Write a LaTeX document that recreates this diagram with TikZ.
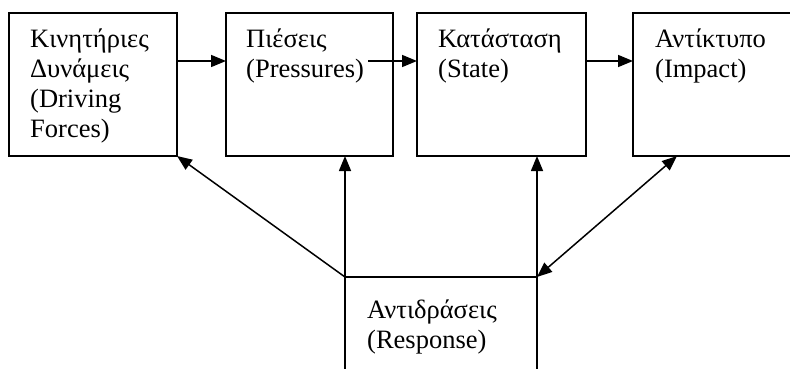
\documentclass[tikz,border=0pt]{standalone}
\usepackage{fontspec}
\setmainfont{Liberation Serif}
\usetikzlibrary{arrows.meta}
\tikzset{
blk/.style={draw,line width=1.5pt,minimum width=#1,minimum height=143pt,anchor=north west,inner sep=0pt,outer sep=0pt},
blk/.default=168pt,
lbl/.style={anchor=base west,inner sep=0pt,text width=160pt,align=left,font=\fontsize{26.5}{30}\selectfont},
arr/.style={line width=1.5pt,-{Triangle[length=15pt,width=12pt]}},
}
\begin{document}
\begin{tikzpicture}[x=1pt,y=-1pt]
\useasboundingbox(0,0)rectangle(790,369);
\clip(0,0)rectangle(790,369);
\node[blk=168pt](drive)at(9,13){};
\node[blk=167pt](press)at(226,13){};
\node[blk=169pt](state)at(417,13){};
\node[blk=170pt](impact)at(633,13){};
\node[blk=192pt,minimum height=120pt](resp)at(345,277){};
\node[lbl](drivetxt)at([shift={(21,35)}]drive.north west){Κινητήριες\\Δυνάμεις\\(Driving\\Forces)};
\node[lbl](presstxt)at([shift={(20,35)}]press.north west){Πιέσεις\\(Pressures)};
\node[lbl](statetxt)at([shift={(21,35)}]state.north west){Κατάσταση\\(State)};
\node[lbl](impacttxt)at([shift={(22,35)}]impact.north west){Αντίκτυπο\\(Impact)};
\node[lbl](resptxt)at([shift={(22,41)}]resp.north west){Αντιδράσεις\\(Response)};
\draw[arr]([yshift=-48pt]drive.north east)--([yshift=-48pt]press.north west);
\draw[arr]([shift={(-25,48)}]press.north east)--([yshift=-48pt]state.north west);
\draw[arr]([yshift=-48pt]state.north east)--([yshift=-48pt]impact.north west);
\draw[arr](resp.north west)--(resp.north west|-press.south);
\draw[arr](resp.north east)--(resp.north east|-state.south);
\draw[arr](resp.north west)--(drive.south east);
\draw[arr,{Triangle[length=15pt,width=12pt]}-{Triangle[length=15pt,width=12pt]}](resp.north east)--([xshift=44pt]impact.south west);
\end{tikzpicture}
\end{document}
